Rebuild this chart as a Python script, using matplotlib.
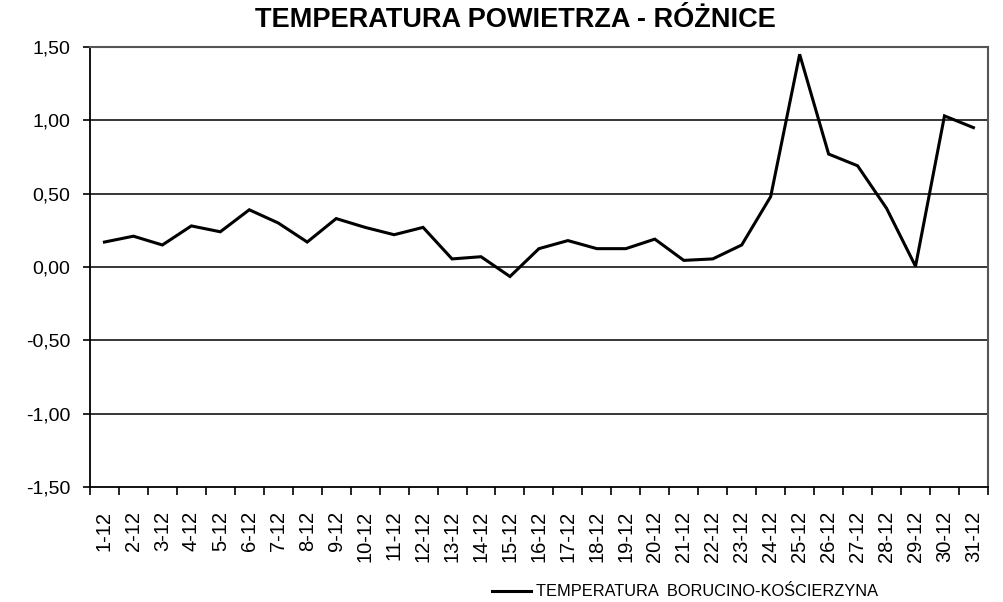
import matplotlib
matplotlib.use("Agg")
import matplotlib.pyplot as plt
import numpy as np

plt.rcParams['font.family'] = ['Liberation Sans', 'DejaVu Sans']

days = [f"{d}-12" for d in range(1, 32)]
diff = [0.17, 0.21, 0.15, 0.28, 0.24, 0.39, 0.30, 0.17, 0.33, 0.27,
        0.22, 0.27, 0.055, 0.07, -0.065, 0.125, 0.18, 0.125, 0.125, 0.19,
        0.045, 0.055, 0.15, 0.48, 1.45, 0.77, 0.69, 0.40, 0.005, 1.03, 0.95]
yticks = [-1.5, -1.0, -0.5, 0.0, 0.5, 1.0, 1.5]
series_label = "TEMPERATURA  BORUCINO-KOŚCIERZYNA"
title = "TEMPERATURA POWIETRZA - RÓŻNICE"

fig = plt.figure(figsize=(10.04, 6.02), dpi=100)
ax = fig.add_axes([0.0896, 0.191, 0.8944, 0.731])

x = np.arange(len(days))
line, = ax.plot(x, diff, color='black', lw=2.2, label=series_label, solid_joinstyle='miter')

ax.set_xlim(-0.5, len(days) - 0.5)
ax.set_ylim(-1.5, 1.5)
ax.set_yticks(yticks)
ax.set_yticklabels([f"{v:.2f}".replace('.', ',') for v in yticks], fontsize=14)
for v in yticks[1:-1]:
    ax.axhline(v, color='black', lw=1.1, zorder=0)

ax.set_xticks(x)
ax.set_xticklabels(days, rotation=90, fontsize=14.5)
ax.set_xticks(np.arange(-0.5, len(days), 1), minor=True)
ax.tick_params(axis='x', which='major', length=0, pad=17)
ax.tick_params(axis='x', which='minor', length=6, width=1.2, direction='out')
ax.tick_params(axis='y', length=5, width=1.2, direction='out', pad=9)

for s in ['left', 'bottom']:
    ax.spines[s].set_color('black')
    ax.spines[s].set_linewidth(1.3)
for s in ['top', 'right']:
    ax.spines[s].set_color('#555555')
    ax.spines[s].set_linewidth(1.5)

fig.text(0.513, 0.967, title, ha='center', va='center', fontsize=19.5, fontweight='bold')

fig.legend(handles=[line], loc='center', bbox_to_anchor=(0.682, 0.017), frameon=False,
           fontsize=11.8, handlelength=2.4, handletextpad=0.3)

fig.savefig("out.png", dpi=100)
